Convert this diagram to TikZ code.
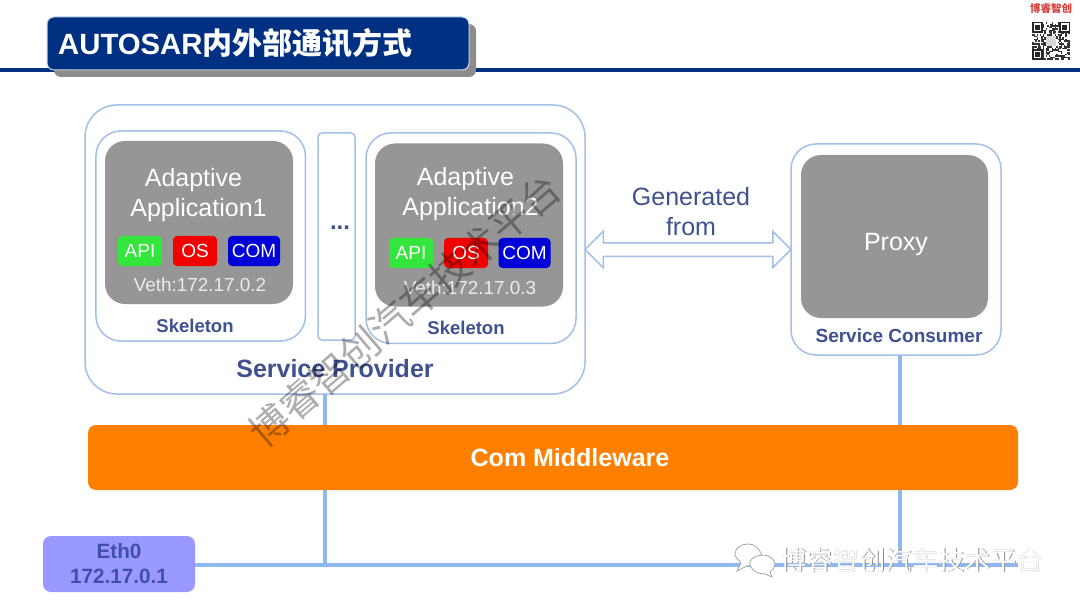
\documentclass[tikz,border=0pt]{standalone}
\usepackage{fontspec}
\setmainfont{Liberation Sans}
\newfontfamily\cjk{Noto Sans CJK SC}
\usetikzlibrary{shapes.arrows,shadows}
\definecolor{titleblue}{HTML}{003082}
\definecolor{boxline}{HTML}{A3C0E6}
\definecolor{busblue}{HTML}{8FB8EE}
\definecolor{labelblue}{HTML}{3F5191}
\definecolor{appgray}{HTML}{969696}
\definecolor{midorange}{HTML}{FF8000}
\definecolor{ethfill}{HTML}{9999FF}
\definecolor{ethtext}{HTML}{4050A8}
\definecolor{logored}{HTML}{D8403F}
\definecolor{chipgreen}{HTML}{33E63C}
\definecolor{chipred}{HTML}{F00000}
\definecolor{chipblue}{HTML}{0000D8}
\tikzset{
    outerbox/.style={draw=boxline,line width=1.5pt,fill=white,inner sep=0pt,outer sep=0pt,rounded corners=#1},
    appbox/.style={fill=appgray,inner sep=0pt,outer sep=0pt,rounded corners=20pt,minimum width=188pt,minimum height=163pt},
    chip/.style={inner sep=0pt,outer sep=0pt,rounded corners=4pt,minimum height=30pt,text=white,font=\fontsize{19}{22}\selectfont},
    apptext/.style={text=white,align=center,font=\fontsize{25}{30}\selectfont},
    vethtext/.style={text=white!92!black,font=\fontsize{18.9}{22}\selectfont},
    smalllabel/.style={text=labelblue,font=\bfseries\fontsize{18.5}{22}\selectfont},
    biglabel/.style={text=labelblue,font=\bfseries\fontsize{25}{30}\selectfont},
    busline/.style={draw=busblue,line width=4pt}
}
\begin{document}
\begin{tikzpicture}[x=1pt,y=-1pt]
    \useasboundingbox (0,0) rectangle (1080,607);
    \fill[white] (0,0) rectangle (1080,607);
    % header
    \coordinate (ruleleft) at (0,70);
    \coordinate (ruleright) at (1080,70);
    \draw[titleblue,line width=4pt] (ruleleft) -- (ruleright);
    \node[fill=titleblue,draw=white!80!titleblue,line width=1pt,rounded corners=7pt,minimum width=422pt,minimum height=53pt,inner sep=0pt,
        drop shadow={shadow xshift=7pt,shadow yshift=-7pt,fill=black!45,opacity=1}] (titlebox) at (258,43.5) {};
    \node[anchor=west,text=white,inner sep=0pt,font=\bfseries\fontsize{29.3}{34}\selectfont] (titletext) at (58,43.5) {AUTOSAR{\cjk\fontsize{30}{34}\selectfont 内外部通讯方式}};
    \node[text=logored,inner sep=0pt,font=\cjk\bfseries\fontsize{10.5}{12}\selectfont] (logotext) at (1051,8.5) {博睿智创};
    % qr code
    \pgfmathsetseed{4711}
    \foreach \i in {0,...,24}
        \foreach \j in {0,...,24} {
            \pgfmathparse{rnd<0.5 ? 1 : 0}
            \ifnum\pgfmathresult=1
                \fill[black!80] (1032+\i*1.52,22+\j*1.52) rectangle ++(1.52,1.52);
            \fi
        }
    \foreach \x/\y in {1032/22,1059.4/22,1032/49.4} {
        \fill[white] (\x-0.6,\y-0.6) rectangle ++(11.8,11.8);
        \fill[black!85] (\x,\y) rectangle ++(10.6,10.6);
        \fill[white] (\x+1.5,\y+1.5) rectangle ++(7.6,7.6);
        \fill[black!85] (\x+3,\y+3) rectangle ++(4.6,4.6);
    }
    \fill[white!85!black] (1046,36) rectangle ++(10,10);
    % connectors
    \coordinate (tapleft) at (325,565);
    \coordinate (tapright) at (900,565);
    \coordinate (busend) at (1018,565);
    % service provider
    \node[outerbox=32pt,minimum width=500pt,minimum height=289pt] (provider) at (335,249.5) {};
    \node[outerbox=25pt,minimum width=209.5pt,minimum height=210pt] (skeleton1) at (200.7,236) {};
    \node[outerbox=4pt,minimum width=37pt,minimum height=207pt] (dotsbox) at (336.5,236.5) {};
    \node[outerbox=25pt,minimum width=210pt,minimum height=210.5pt] (skeleton2) at (471,238.2) {};
    \node[appbox] (app1) at (199,222.5) {};
    \node[appbox] (app2) at (469,225) {};
    \node[apptext] (app1text) at (193.5,195) {Adaptive\\\hspace*{10pt}Application1};
    \node[apptext] (app2text) at (465.5,194) {Adaptive\\\hspace*{10pt}Application2};
    \node[chip,fill=chipgreen,minimum width=44pt] (api1) at (140,251) {API};
    \node[chip,fill=chipred,minimum width=44pt] (os1) at (195,251) {OS};
    \node[chip,fill=chipblue,minimum width=52pt] (com1) at (254,251) {COM};
    \node[chip,fill=chipgreen,minimum width=44pt] (api2) at (411,253) {API};
    \node[chip,fill=chipred,minimum width=44pt] (os2) at (466,253) {OS};
    \node[chip,fill=chipblue,minimum width=52pt] (com2) at (524.5,253) {COM};
    \node[vethtext] (veth1) at (200,285) {Veth:172.17.0.2};
    \node[vethtext] (veth2) at (470,288) {Veth:172.17.0.3};
    \node[smalllabel] (skeleton1text) at (195,326) {Skeleton};
    \node[smalllabel] (skeleton2text) at (466,328) {Skeleton};
    \node[text=labelblue,font=\bfseries\fontsize{24}{26}\selectfont] (dots) at (340,228) {...};
    \node[biglabel] (providertext) at (335,369) {Service Provider};
    % service consumer
    \node[outerbox=25pt,minimum width=210pt,minimum height=211pt] (consumer) at (896,249.5) {};
    \node[appbox,minimum width=187pt] (proxy) at (894.5,236.5) {};
    \node[text=white,font=\fontsize{25}{30}\selectfont] (proxytext) at (896,244) {Proxy};
    \node[text=labelblue,font=\bfseries\fontsize{19}{22}\selectfont] (consumertext) at (899,336) {Service Consumer};
    % generated from
    \node[double arrow,draw=boxline,line width=1.5pt,fill=white,minimum height=206pt,minimum width=35pt,inner sep=6pt,outer sep=0pt,
        double arrow head extend=11.5pt,double arrow head indent=0pt] (genarrow) at (688,249.5) {};
    \node[text=labelblue,align=center,font=\fontsize{25}{30}\selectfont] (gentext) at (691,212) {Generated\\from};
    % network
    \node[fill=ethfill,text=ethtext,align=center,rounded corners=8pt,inner sep=0pt,outer sep=0pt,minimum width=152pt,minimum height=56pt,
        font=\bfseries\fontsize{20.7}{25}\selectfont] (eth) at (119,564) {Eth0\\172.17.0.1};
    \draw[busline] (eth.east |- busend) -- (busend);
    \draw[busline] (provider.south -| tapleft) -- (tapleft);
    \draw[busline] (consumer.south -| tapright) -- (tapright);
    \node[fill=midorange,text=white,rounded corners=8pt,inner sep=0pt,outer sep=0pt,minimum width=930pt,minimum height=65pt,
        font=\bfseries\fontsize{25}{30}\selectfont] (middleware) at (553,457.5) {\hspace*{34pt}Com Middleware};
    % watermarks
    \node[rotate=40.4,text=black,opacity=0.32,inner sep=0pt,font=\cjk\fontsize{39.4}{42}\selectfont] (watermark) at (405,310) {博睿智创汽车技术平台};
    \fill[white,draw=black!35,line width=0.8pt] (741,563) -- (737,571) -- (747,566) to[out=0,in=-60] (761,553) to[out=120,in=0] (748,544) to[out=180,in=90] (735,554) to[out=-90,in=120] (741,563) -- cycle;
    \fill[white,draw=black!35,line width=0.8pt] (770,572) -- (772,577) -- (765,574) to[out=180,in=-70] (750,565) to[out=110,in=180] (763,555) to[out=0,in=90] (775,565) to[out=-90,in=50] (770,572) -- cycle;
    \node[text=black!45,inner sep=0pt,font=\cjk\fontsize{26.3}{30}\selectfont] (bottomshadow) at (912.7,560.7) {博睿智创汽车技术平台};
    \node[text=white,inner sep=0pt,font=\cjk\fontsize{26.3}{30}\selectfont] (bottomtext) at (912,560) {博睿智创汽车技术平台};
\end{tikzpicture}
\end{document}
